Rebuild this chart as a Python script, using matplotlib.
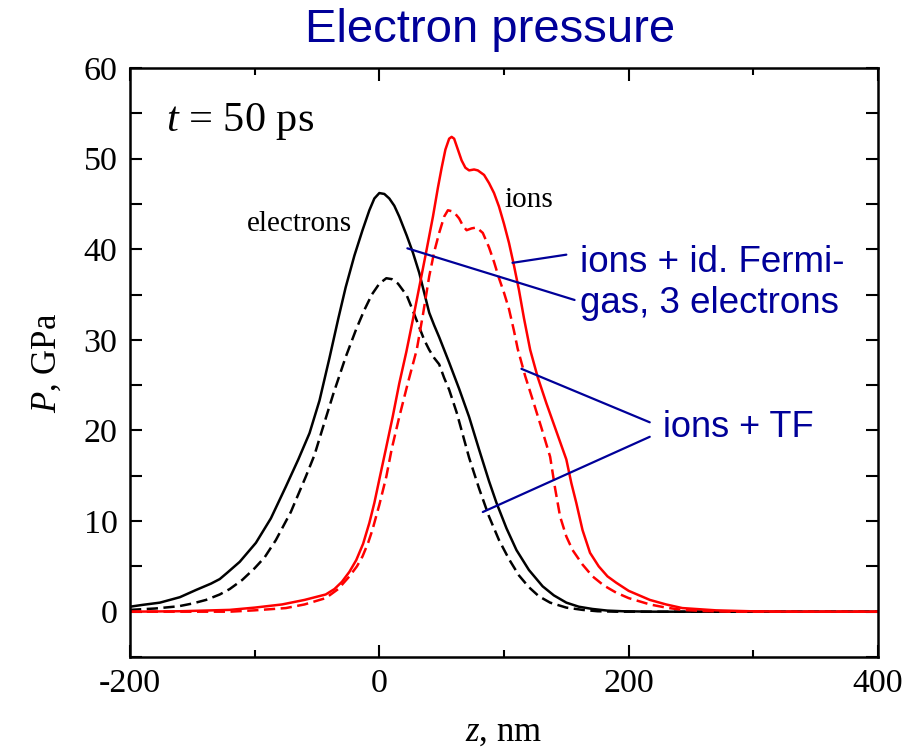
import numpy as np
import matplotlib.pyplot as plt
from matplotlib.ticker import MultipleLocator

plt.rcParams['mathtext.fontset'] = 'custom'
plt.rcParams['mathtext.rm'] = 'Liberation Serif'
plt.rcParams['mathtext.it'] = 'Liberation Serif:italic'
plt.rcParams['axes.unicode_minus'] = False

# electrons, solid (ideal Fermi gas, 3 electrons)
z_el = [-200, -190, -176, -160, -147, -135, -128, -122, -112, -99, -87, -75, -65, -56, -48, -40,
        -33, -27, -20, -13.5, -8, -4, 0, 4, 8, 12, 16, 22, 27, 32, 36, 40, 44, 48, 52, 56,
        64, 72, 80, 88, 94, 102, 110, 120, 131, 140, 150, 160, 171, 183, 195, 220, 400]
p_el = [0.55, 0.75, 1.0, 1.6, 2.4, 3.1, 3.6, 4.3, 5.5, 7.6, 10.3, 13.8, 16.8, 19.7, 23.3, 28.0,
        32.3, 35.8, 39.3, 42.1, 44.3, 45.6, 46.2, 46.1, 45.6, 44.8, 43.6, 41.5, 39.6, 37.4, 35.2, 33.0, 31.6, 30.3, 28.9, 27.5,
        24.6, 21.5, 17.9, 14.4, 12.0, 9.2, 6.8, 4.6, 2.8, 1.8, 1.0, 0.55, 0.3, 0.12, 0.05, 0.0, 0.0]

# electrons, dashed (TF)
z_el_tf = [-200, -180, -161, -150, -139, -128, -120, -110, -100, -92, -83, -71, -59, -52, -46, -37,
           -27, -18.5, -12, -6, 0, 5.6, 10, 15, 22, 27, 32, 36, 40, 44, 48, 52, 56, 62,
           72, 80, 88, 96, 104, 112, 120, 128, 137, 150, 163, 175, 190, 400]
p_el_tf = [0.2, 0.35, 0.6, 0.9, 1.3, 1.9, 2.5, 3.5, 4.8, 6.0, 7.9, 11.0, 14.9, 17.3, 20.0, 24.0,
           28.1, 31.2, 33.3, 35.0, 36.2, 36.8, 36.7, 36.2, 34.9, 33.2, 31.4, 30.0, 28.9, 28.0, 27.3, 25.8, 24.5, 22.0,
           17.0, 13.6, 10.5, 7.9, 5.8, 4.0, 2.7, 1.7, 1.0, 0.45, 0.2, 0.05, 0.0, 0.0]

# ions + electrons, solid
z_ion = [-200, -160, -120, -100, -78, -60, -43, -36, -30, -24, -18.5, -13, -8, -4, 0, 5, 10.7,
         16, 21.7, 27, 32, 38, 43, 47, 50, 53, 56, 58, 60, 63, 66, 69, 72, 76, 79, 84, 88, 92,
         96, 100, 104, 108, 112, 116, 121, 127, 134, 142, 150, 154, 158, 163, 169, 176, 183,
         190, 200, 217, 230, 243, 270, 297, 330, 400]
p_ion = [0.0, 0.05, 0.2, 0.45, 0.8, 1.3, 1.9, 2.5, 3.3, 4.4, 5.7, 7.5, 9.8, 12.0, 14.6, 17.8, 21.5,
         25.2, 28.7, 32.3, 35.8, 40.0, 43.6, 46.8, 49.0, 51.0, 52.2, 52.4, 52.2, 51.0, 49.8, 49.0, 48.7, 48.8, 48.7, 48.2, 47.3, 46.2,
         44.7, 42.8, 40.7, 38.2, 35.5, 32.4, 28.9, 25.9, 23.0, 19.9, 16.8, 14.2, 12.0, 9.0, 6.5, 5.0, 3.9,
         3.2, 2.3, 1.3, 0.8, 0.4, 0.15, 0.05, 0.0, 0.0]

# ions + electrons, dashed (TF)
z_ion_tf = [-200, -120, -100, -75, -60, -43, -33, -24, -18, -13.5, -9, -5.6, 0, 5.6, 10, 16, 23,
            30, 35, 40, 44, 48, 52, 55, 58, 61, 64, 67, 70, 74, 78, 83, 88, 92, 96, 100, 104,
            108, 111, 117, 123, 130, 137, 141, 145, 150, 155, 163, 171, 180, 190, 200, 217, 230,
            243, 260, 280, 400]
p_ion_tf = [0.0, 0.0, 0.15, 0.4, 0.8, 1.5, 2.5, 3.9, 5.0, 6.1, 7.6, 9.0, 11.8, 14.9, 18.0, 21.5, 25.3,
            28.9, 32.8, 37.0, 39.7, 41.8, 43.6, 44.3, 44.2, 43.9, 43.4, 42.6, 42.1, 42.3, 42.4, 41.8, 40.2, 38.6, 36.8, 35.2, 33.4,
            31.0, 29.0, 26.0, 23.4, 20.3, 17.1, 13.6, 10.5, 8.3, 6.8, 5.2, 3.9, 2.9, 2.1, 1.5, 0.8, 0.45,
            0.2, 0.08, 0.0, 0.0]

blue = '#000099'
serif = 'Liberation Serif'
sans = 'Liberation Sans'

fig = plt.figure(figsize=(9.16, 7.49), dpi=100)
ax = fig.add_axes([130/916, 1-657/749, 748/916, 589/749])

lw = 1.8
dash = (0, (4.5, 2.2))
ax.plot(z_el, p_el, color='black', lw=lw)
ax.plot(z_el_tf, p_el_tf, color='black', lw=lw, ls=dash)
ax.plot(z_ion, p_ion, color='red', lw=lw)
ax.plot(z_ion_tf, p_ion_tf, color='red', lw=lw, ls=dash)

ax.set_xlim(-200, 400)
ax.set_ylim(-5, 60)
ax.xaxis.set_major_locator(MultipleLocator(200))
ax.xaxis.set_minor_locator(MultipleLocator(100))
ax.yaxis.set_major_locator(MultipleLocator(10))
ax.yaxis.set_minor_locator(MultipleLocator(5))
ax.tick_params(which='both', direction='in', top=True, right=True, width=1.5,
               labelsize=24.5)
ax.tick_params(axis='x', which='major', length=9, pad=8)
ax.tick_params(axis='x', which='minor', length=5)
ax.tick_params(axis='y', which='both', length=8.5, pad=9)
for lab in ax.get_xticklabels() + ax.get_yticklabels():
    lab.set_fontfamily(serif)
for s in ax.spines.values():
    s.set_linewidth(1.8)

ax.set_xlabel(r'$z$, nm', fontfamily=serif, fontsize=25, labelpad=12)
ax.set_ylabel(r'$P$, GPa', fontfamily=serif, fontsize=25, labelpad=14)

fig.text(490/916, 1-30/749, 'Electron pressure', color=blue, fontfamily=sans,
         fontsize=34, ha='center', va='center')

ax.text(-171, 53.1, r'$t$ = 50 ps', fontfamily=serif, fontsize=30.5, ha='left', va='baseline')
ax.text(-106, 42.0, 'electrons', fontfamily=serif, fontsize=21, ha='left', va='baseline')
ax.text(100.4, 44.65, 'ions', fontfamily=serif, fontsize=21, ha='left', va='baseline')

ax.text(160.6, 37.5, 'ions + id. Fermi-', color=blue, fontfamily=sans, fontsize=26.5,
        ha='left', va='baseline')
ax.text(160.6, 33.0, 'gas, 3 electrons', color=blue, fontfamily=sans, fontsize=26.5,
        ha='left', va='baseline')
ax.text(227.3, 19.3, 'ions + TF', color=blue, fontfamily=sans, fontsize=26,
        ha='left', va='baseline')

lp = dict(arrowstyle='-', color=blue, lw=1.6, shrinkA=0, shrinkB=0)
ax.annotate('', xy=(106.8, 38.5), xytext=(150, 39.4), arrowprops=lp)
ax.annotate('', xy=(22.5, 40.1), xytext=(156.6, 34.4), arrowprops=lp)
ax.annotate('', xy=(114, 26.8), xytext=(216.9, 20.9), arrowprops=lp)
ax.annotate('', xy=(83, 11.0), xytext=(216.9, 19.3), arrowprops=lp)

fig.savefig('out.png', dpi=100)
